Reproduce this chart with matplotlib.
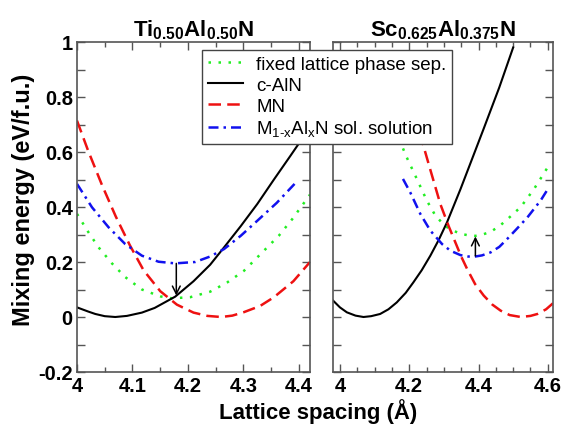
import matplotlib
matplotlib.use("Agg")
import matplotlib.pyplot as plt
from matplotlib.ticker import MultipleLocator, FuncFormatter

plt.rcParams['font.family'] = ['Liberation Sans', 'DejaVu Sans']
plt.rcParams['mathtext.fontset'] = 'custom'
plt.rcParams['mathtext.rm'] = 'Liberation Sans'
plt.rcParams['mathtext.it'] = 'Liberation Sans:italic'
plt.rcParams['mathtext.bf'] = 'Liberation Sans:bold'
plt.rcParams['axes.unicode_minus'] = False

# --- Ti0.50Al0.50N panel ---
ti_aln_x = [4.0, 4.02, 4.033, 4.05, 4.069, 4.09, 4.117, 4.14, 4.177, 4.21, 4.24, 4.265, 4.295, 4.325, 4.355, 4.385, 4.42]
ti_aln_y = [0.035, 0.02, 0.011, 0.003, 0.0, 0.004, 0.016, 0.033, 0.074, 0.13, 0.19, 0.253, 0.33, 0.411, 0.50, 0.587, 0.69]

ti_mn_x = [4.0, 4.02, 4.045, 4.07, 4.095, 4.12, 4.15, 4.18, 4.21, 4.235, 4.26, 4.28, 4.30, 4.33, 4.355, 4.39, 4.42]
ti_mn_y = [0.714, 0.605, 0.48, 0.365, 0.262, 0.17, 0.094, 0.045, 0.016, 0.004, 0.0, 0.005, 0.017, 0.04, 0.072, 0.13, 0.2]

ti_sol_x = [4.0, 4.027, 4.057, 4.087, 4.117, 4.147, 4.177, 4.213, 4.24, 4.265, 4.295, 4.325, 4.36, 4.395]
ti_sol_y = [0.484, 0.399, 0.326, 0.265, 0.223, 0.201, 0.195, 0.2, 0.22, 0.247, 0.295, 0.35, 0.415, 0.49]

ti_fix_x = [4.0, 4.02, 4.039, 4.063, 4.087, 4.117, 4.15, 4.171, 4.204, 4.24, 4.271, 4.301, 4.331, 4.364, 4.388, 4.42]
ti_fix_y = [0.375, 0.31, 0.253, 0.195, 0.145, 0.10, 0.075, 0.068, 0.072, 0.092, 0.126, 0.168, 0.229, 0.296, 0.356, 0.445]

ti_arrow = (4.179, 0.195, 0.078)

# --- Sc0.625Al0.375N panel ---
sc_aln_x = [3.98, 4.0, 4.02, 4.045, 4.068, 4.09, 4.116, 4.14, 4.164, 4.19, 4.212, 4.236, 4.261, 4.285, 4.309, 4.348, 4.38, 4.415, 4.46, 4.50]
sc_aln_y = [0.06, 0.035, 0.017, 0.005, 0.0, 0.003, 0.011, 0.028, 0.053, 0.088, 0.126, 0.17, 0.223, 0.28, 0.344, 0.465, 0.57, 0.685, 0.835, 0.98]

sc_mn_x = [4.20, 4.237, 4.261, 4.29, 4.314, 4.329, 4.35, 4.367, 4.39, 4.415, 4.44, 4.464, 4.49, 4.522, 4.55, 4.57, 4.595, 4.615]
sc_mn_y = [0.80, 0.64, 0.535, 0.41, 0.33, 0.284, 0.22, 0.175, 0.12, 0.078, 0.045, 0.023, 0.007, 0.0, 0.004, 0.011, 0.028, 0.05]

sc_sol_x = [4.182, 4.203, 4.232, 4.261, 4.295, 4.319, 4.348, 4.37, 4.386, 4.41, 4.435, 4.46, 4.483, 4.51, 4.541, 4.58, 4.60]
sc_sol_y = [0.502, 0.453, 0.375, 0.314, 0.265, 0.241, 0.225, 0.22, 0.219, 0.224, 0.235, 0.255, 0.284, 0.32, 0.362, 0.425, 0.465]

sc_fix_x = [4.182, 4.193, 4.222, 4.251, 4.275, 4.30, 4.319, 4.348, 4.37, 4.391, 4.41, 4.435, 4.46, 4.483, 4.522, 4.56, 4.60]
sc_fix_y = [0.613, 0.58, 0.502, 0.423, 0.37, 0.335, 0.318, 0.303, 0.297, 0.295, 0.299, 0.31, 0.33, 0.355, 0.40, 0.465, 0.545]

sc_arrow = (4.391, 0.222, 0.293)

labels = ['fixed lattice phase sep.', 'c-AlN', 'MN',
          r'M$_{\text{1-x}}$Al$_{\mathrm{x}}$N sol. solution']

fig = plt.figure(figsize=(5.72, 4.31), dpi=100)
ax1 = fig.add_axes([77 / 572, 58 / 431, 233 / 572, 330 / 431])
ax2 = fig.add_axes([333 / 572, 58 / 431, 220 / 572, 330 / 431])

lw = 1.8
fix_style = dict(color='#22ee22', lw=lw, linestyle=(0, (1, 3)))
aln_style = dict(color='black', lw=1.5, linestyle='-')
mn_style = dict(color='#ee1111', lw=lw, linestyle=(0, (5, 2.5)))
sol_style = dict(color='#1111ee', lw=lw, linestyle=(0, (4, 2, 1, 2)))


def draw(ax, fx, fy, ax_, ay, mx, my, sx, sy, arrow):
    h1, = ax.plot(fx, fy, **fix_style)
    h2, = ax.plot(ax_, ay, **aln_style)
    h3, = ax.plot(mx, my, **mn_style)
    h4, = ax.plot(sx, sy, **sol_style)
    x, y0, y1 = arrow
    ax.annotate('', xy=(x, y1), xytext=(x, y0),
                arrowprops=dict(arrowstyle='->', color='black', lw=1.1,
                                shrinkA=0, shrinkB=0, mutation_scale=14))
    return [h1, h2, h3, h4]


handles = draw(ax1, ti_fix_x, ti_fix_y, ti_aln_x, ti_aln_y, ti_mn_x, ti_mn_y,
               ti_sol_x, ti_sol_y, ti_arrow)
draw(ax2, sc_fix_x, sc_fix_y, sc_aln_x, sc_aln_y, sc_mn_x, sc_mn_y,
     sc_sol_x, sc_sol_y, sc_arrow)

fmt = FuncFormatter(lambda v, p: '%g' % round(v, 3))
for ax in (ax1, ax2):
    ax.set_ylim(-0.2, 1.0)
    ax.yaxis.set_major_locator(MultipleLocator(0.2))
    ax.yaxis.set_minor_locator(MultipleLocator(0.1))
    ax.xaxis.set_minor_locator(MultipleLocator(0.05))
    ax.xaxis.set_major_formatter(fmt)
    ax.yaxis.set_major_formatter(fmt)
    ax.tick_params(which='both', direction='in', top=True, right=True,
                   color='#555555', width=1.0)
    ax.tick_params(axis='x', which='major', length=6)
    ax.tick_params(axis='x', which='minor', length=3.5)
    ax.tick_params(axis='y', which='both', length=5.5)
    ax.tick_params(which='major', labelsize=14.5, pad=3)
    for sp in ax.spines.values():
        sp.set_color('#555555')
        sp.set_linewidth(1.2)

ax1.set_xlim(4.0, 4.42)
ax1.xaxis.set_major_locator(MultipleLocator(0.1))
ax2.set_xlim(3.98, 4.615)
ax2.xaxis.set_major_locator(MultipleLocator(0.2))
ax2.tick_params(labelleft=False)

for lab in ax1.get_xticklabels() + ax1.get_yticklabels() + ax2.get_xticklabels():
    lab.set_fontweight('bold')

ax1.set_title(r'$\mathbf{Ti_{0.50}Al_{0.50}N}$', fontsize=16, pad=5)
ax2.set_title(r'$\mathbf{Sc_{0.625}Al_{0.375}N}$', fontsize=16, pad=5)

fig.text(318 / 572, 1 - 412 / 431, 'Lattice spacing (Å)', fontsize=16,
         fontweight='bold', ha='center', va='center')
fig.text(24 / 572, 1 - 200 / 431, 'Mixing energy (eV/f.u.)', fontsize=17,
         fontweight='bold', ha='center', va='center', rotation=90)

leg = fig.legend(handles, labels, loc='upper left',
                 bbox_to_anchor=(202 / 572, 1 - 51 / 431), borderaxespad=0,
                 fontsize=13.5, frameon=True, fancybox=False, framealpha=1,
                 edgecolor='#444444', handlelength=1.9, handletextpad=0.7,
                 labelspacing=0.2, borderpad=0.3)
leg.get_frame().set_linewidth(1.0)

fig.savefig('out.png', dpi=100)
